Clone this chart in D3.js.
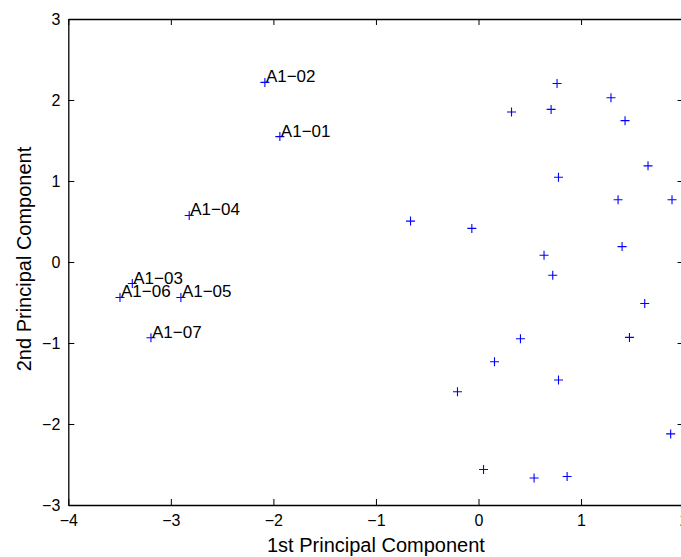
<!DOCTYPE html>
<html>
<head>
<meta charset="utf-8">
<script src="https://cdn.jsdelivr.net/npm/d3@7"></script>
<style>
html,body{margin:0;padding:0;background:#fff;overflow:hidden;}
text{font-family:"Liberation Sans",Arial,Helvetica,sans-serif;fill:#000;}
</style>
</head>
<body>
<div id="chart"></div>
<script>
// Labeled observations
const labelNames = ["A1\u221201","A1\u221202","A1\u221203","A1\u221204","A1\u221205","A1\u221206","A1\u221207"];
const labelX = [-1.937,-2.083,-3.376,-2.821,-2.902,-3.496,-3.194];
const labelY = [1.548,2.217,-0.266,0.575,-0.438,-0.438,-0.936];
// Unlabeled observations
const pointX = [0.766,1.292,0.322,0.708,1.429,1.653,0.780,1.361,1.887,-0.663,-0.065,1.400,0.639,0.724,1.621,0.409,1.472,0.156,0.780,-0.205,1.874,0.049,0.542,0.864];
const pointY = [2.204,2.028,1.852,1.884,1.745,1.187,1.047,0.768,0.768,0.505,0.415,0.190,0.083,-0.164,-0.512,-0.948,-0.931,-1.232,-1.457,-1.601,-2.122,-2.562,-2.667,-2.648];
// Ticks
const xTicks = [-4,-3,-2,-1,0,1,2];
const yTicks = [-3,-2,-1,0,1,2,3];
const xTitle = "1st Principal Component";
const yTitle = "2nd Principal Component";

const W = 681, H = 557;
const mLeft = 68.3, mRight = 683.6, mTop = 19, mBottom = 505;
const svg = d3.select("#chart").append("svg").attr("width", W).attr("height", H);

const x = d3.scaleLinear().domain([-4, 2]).range([mLeft, mRight]);
const y = d3.scaleLinear().domain([-3, 3]).range([mBottom, mTop]);
const fmt = d => d < 0 ? "\u2212" + Math.abs(d) : String(d);
const tickLen = 6;

// Axes (box with ticks on all sides, ticks pointing inward)
const gB = svg.append("g").attr("transform", `translate(0,${mBottom})`)
  .call(d3.axisBottom(x).tickValues(xTicks).tickFormat(fmt).tickSizeInner(-tickLen).tickSizeOuter(0).tickPadding(10));
const gT = svg.append("g").attr("transform", `translate(0,${mTop})`)
  .call(d3.axisTop(x).tickValues(xTicks).tickFormat("").tickSizeInner(-tickLen).tickSizeOuter(0));
const gL = svg.append("g").attr("transform", `translate(${mLeft},0)`)
  .call(d3.axisLeft(y).tickValues(yTicks).tickFormat(fmt).tickSizeInner(-tickLen).tickSizeOuter(0).tickPadding(8));
const gR = svg.append("g").attr("transform", `translate(${mRight},0)`)
  .call(d3.axisRight(y).tickValues(yTicks).tickFormat("").tickSizeInner(-tickLen).tickSizeOuter(0));
[gB, gT, gL, gR].forEach(g => {
  g.select(".domain").attr("stroke", "#000").attr("stroke-width", 1.3);
  g.selectAll(".tick line").attr("stroke", "#000").attr("stroke-width", 1);
  g.selectAll(".tick text").attr("font-size", 16).attr("font-family", "Liberation Sans, Arial, sans-serif").attr("fill", "#000");
});

// plus markers
function plus(sel, px, py) {
  const r = 4.5;
  sel.append("path")
    .attr("d", `M${px - r},${py}H${px + r}M${px},${py - r}V${py + r}`)
    .attr("stroke", "#0000ff").attr("stroke-width", 1.1).attr("fill", "none");
}
const gP = svg.append("g");
pointX.forEach((v, i) => plus(gP, x(v), y(pointY[i])));
labelX.forEach((v, i) => plus(gP, x(v), y(labelY[i])));

// labels
svg.append("g").selectAll("text").data(labelNames).join("text")
  .attr("x", (d, i) => x(labelX[i]) + 1)
  .attr("y", (d, i) => y(labelY[i]))
  .attr("font-size", 17)
  .text(d => d);

// axis titles
svg.append("text").attr("x", (mLeft + mRight) / 2).attr("y", 551.5)
  .attr("text-anchor", "middle").attr("font-size", 20).text(xTitle);
svg.append("text").attr("transform", `translate(30.5,${(mTop + mBottom) / 2 - 3}) rotate(-90)`)
  .attr("text-anchor", "middle").attr("font-size", 20).text(yTitle);
</script>
</body>
</html>
